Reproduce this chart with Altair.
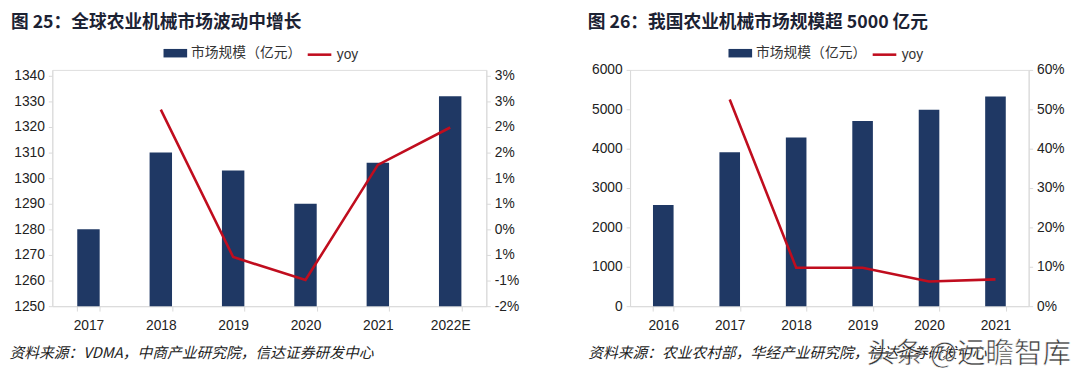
import altair as alt
import pandas as pd

# ---------------- data ----------------
years_global = ["2017", "2018", "2019", "2020", "2021", "2022E"]
size_global = [1280, 1310, 1303, 1290, 1306, 1332]
yoy_global = [None, 0.0234, -0.0054, -0.0099, 0.0126, 0.0199]
left_ticks_global = [1250, 1260, 1270, 1280, 1290, 1300, 1310, 1320, 1330, 1340]
left_domain_global = [1250, 1342.3]
right_ticks_global = [-0.015, -0.01, -0.005, 0.0, 0.005, 0.01, 0.015, 0.02, 0.025, 0.03]
right_domain_global = [-0.015, 0.03115]
right_labels_global = ["-2%", "-1%", "1%", "0%", "1%", "1%", "2%", "2%", "3%", "3%"]

years_china = ["2016", "2017", "2018", "2019", "2020", "2021"]
size_china = [2570, 3910, 4285, 4700, 4990, 5325]
yoy_china = [None, 0.525, 0.0975, 0.0975, 0.0625, 0.068]
left_ticks_china = [0, 1000, 2000, 3000, 4000, 5000, 6000]
left_domain_china = [0, 6000]
right_ticks_china = [0.0, 0.1, 0.2, 0.3, 0.4, 0.5, 0.6]
right_domain_china = [0.0, 0.6]
right_labels_china = ["0%", "10%", "20%", "30%", "40%", "50%", "60%"]

title_global = "图  25：全球农业机械市场波动中增长"
title_china = "图  26：我国农业机械市场规模超 5000 亿元"
source_global = "资料来源：VDMA，中商产业研究院，信达证券研发中心"
source_china = "资料来源：农业农村部，华经产业研究院，信达证券研发中心"
bar_name = "市场规模（亿元）"
line_name = "yoy"
watermark = "头条 @远瞻智库"

BAR = "#1f3864"
LINE = "#c00d1e"
AXIS = "#d9d9d9"
TXT = "#222222"
FONT = "Liberation Sans"
CJK = "Noto Sans CJK SC"

RECT = "M-1,-0.36H1V0.36H-1Z"


def label_expr(values, labels):
    expr = "''"
    for v, l in reversed(list(zip(values, labels))):
        expr = f"abs(datum.value - ({v})) < 1e-9 ? '{l}' : ({expr})"
    return expr


def panel(years, sizes, yoys, lticks, ldom, rticks, rdom, rlabels, title, source,
          w, h, title_dx, src_x, leg_x1, leg_x2, with_mark=False):
    df = pd.DataFrame({"year": years, "size": sizes, "yoy": yoys})
    df["s1"] = bar_name
    df["s2"] = line_name

    x = alt.X(
        "year:N", sort=years,
        scale=alt.Scale(paddingInner=0.69, paddingOuter=0.345),
        axis=alt.Axis(
            title=source, labelAngle=0, tickBand="extent", tickSize=5,
            tickColor=AXIS, domainColor=AXIS, labelFont=FONT, labelFontSize=14,
            labelColor=TXT, labelPadding=8,
            titleFont=CJK, titleFontSize=15, titleFontStyle="italic",
            titleFontWeight="normal", titleColor=TXT, titleAnchor="start",
            titleAlign="left", titleX=src_x, titleY=47, titleBaseline="middle",
        ),
    )
    bars = alt.Chart(df).mark_bar().encode(
        x=x,
        y=alt.Y("size:Q",
                scale=alt.Scale(domain=ldom, nice=False, zero=False),
                axis=alt.Axis(title=None, values=lticks, grid=False, tickSize=4,
                              format="d",
                              tickColor=AXIS, domainColor=AXIS, labelFont=FONT,
                              labelFontSize=14, labelColor=TXT, labelPadding=4)),
        y2=alt.datum(ldom[0]),
        fill=alt.Fill("s1:N", scale=alt.Scale(range=[BAR]),
                      legend=alt.Legend(title=None, orient="none", legendX=leg_x1,
                                        legendY=-29, symbolType=RECT, symbolSize=576,
                                        symbolStrokeWidth=0, labelFont=CJK,
                                        labelFontSize=14, labelColor="#333333",
                                        labelOffset=4)),
    )
    line = alt.Chart(df).mark_line(strokeWidth=2.6).encode(
        x=x,
        y=alt.Y("yoy:Q",
                scale=alt.Scale(domain=rdom, nice=False, zero=False),
                axis=alt.Axis(title=None, orient="right", values=rticks, grid=False,
                              tickSize=4, tickColor=AXIS, domainColor=AXIS,
                              labelFont=FONT, labelFontSize=14, labelColor=TXT,
                              labelPadding=4, labelExpr=label_expr(rticks, rlabels))),
        stroke=alt.Stroke("s2:N", scale=alt.Scale(range=[LINE]),
                          legend=alt.Legend(title=None, orient="none", legendX=leg_x2,
                                            legendY=-29, symbolType="stroke",
                                            symbolSize=576, symbolStrokeWidth=2.6,
                                            labelFont=FONT, labelFontSize=14,
                                            labelColor="#333333", labelOffset=4)),
    )
    layers = [bars, line]
    if with_mark:
        wm = alt.Chart(pd.DataFrame({"t": [watermark]})).mark_text(
            font=CJK, fontSize=29, color="#1a1a1a", opacity=0.85, align="right",
            baseline="middle", stroke="white", strokeWidth=0.6,
        ).encode(text="t:N", x=alt.value(w + 43), y=alt.value(h + 49))
        layers.append(wm)
    return alt.layer(*layers).resolve_scale(
        y="independent", fill="independent", stroke="independent"
    ).properties(
        width=w, height=h,
        title=alt.TitleParams(text=title, anchor="start", frame="group", dx=title_dx,
                              offset=10, font=CJK, fontSize=18,
                              fontWeight="bold", color="#1c2233"),
    )


left = panel(years_global, size_global, yoy_global, left_ticks_global,
             left_domain_global, right_ticks_global, right_domain_global,
             right_labels_global, title_global, source_global,
             441, 240, -42, -44, 113, 258)
right = panel(years_china, size_china, yoy_china, left_ticks_china,
              left_domain_china, right_ticks_china, right_domain_china,
              right_labels_china, title_china, source_china,
              405, 240, -43, -43, 100, 245, with_mark=True)

chart = alt.hconcat(left, right, spacing=68).configure_view(stroke=None).configure(
    background="white").properties(
    padding={"left": 0, "right": 0, "top": 2, "bottom": 0})

chart.save("out.html", embed_options={"renderer": "svg", "actions": False})
